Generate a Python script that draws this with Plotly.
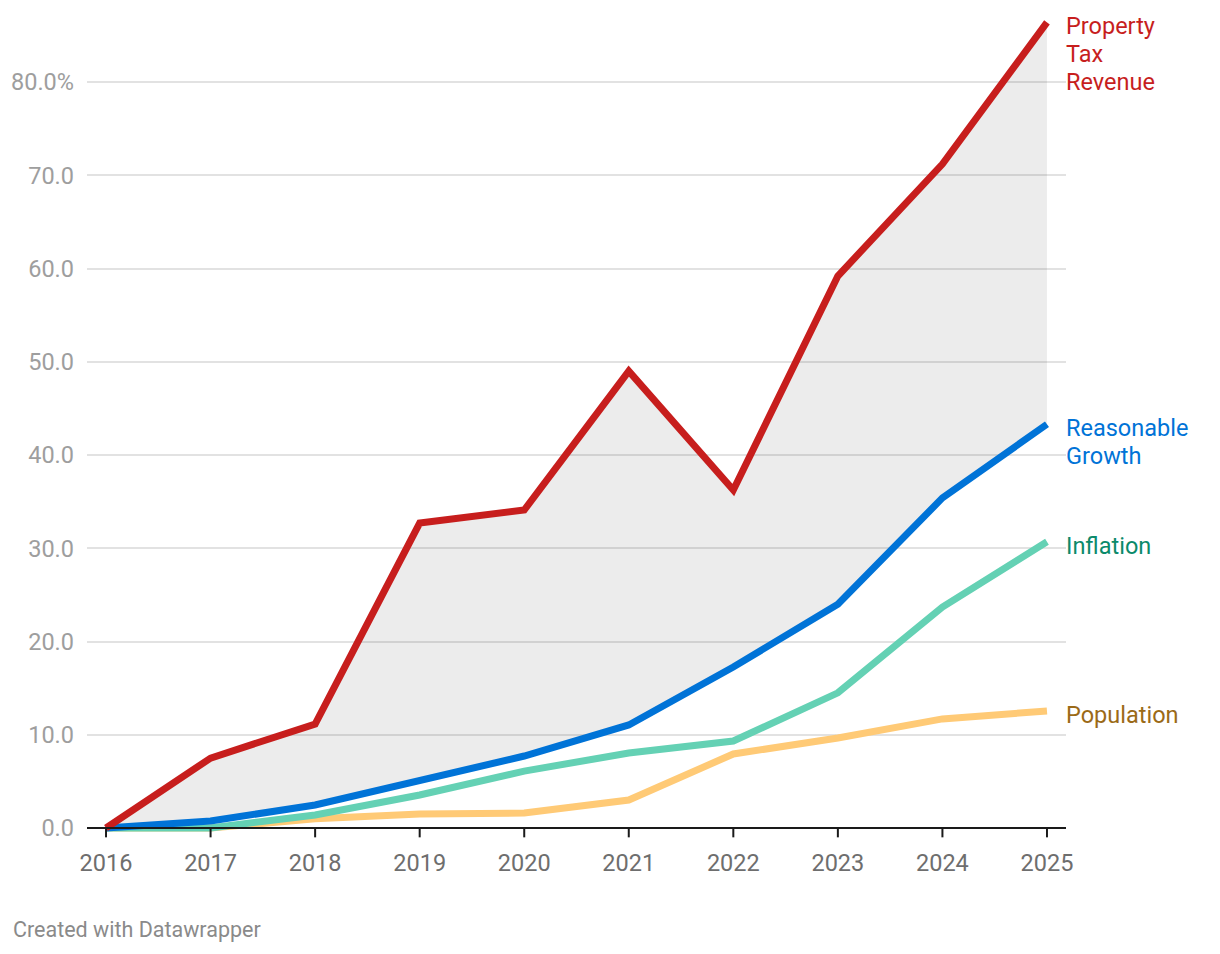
import plotly.graph_objects as go

years = [2016, 2017, 2018, 2019, 2020, 2021, 2022, 2023, 2024, 2025]
property_tax = [0.0, 7.5, 11.15, 32.7, 34.1, 49.0, 36.25, 59.2, 71.2, 86.4]
reasonable_growth = [0.0, 0.75, 2.47, 5.15, 7.72, 11.05, 17.27, 24.0, 35.4, 43.3]
inflation = [0.0, 0.0, 1.4, 3.54, 6.1, 8.04, 9.33, 14.5, 23.7, 30.7]
population = [0.0, 0.0, 1.0, 1.5, 1.6, 3.0, 7.94, 9.65, 11.7, 12.55]

y_ticks = [0, 10, 20, 30, 40, 50, 60, 70, 80]
y_ticktext = ["0.0", "10.0", "20.0", "30.0", "40.0", "50.0", "60.0", "70.0", "80.0%"]

series = [
    ("Population", population, "#ffca76", "#9b6a17", ["Population"]),
    ("Inflation", inflation, "#64d1b4", "#0b8a6b", ["Inflation"]),
    ("Reasonable Growth", reasonable_growth, "#0073d7", "#0073d7", ["Reasonable", "Growth"]),
    ("Property Tax Revenue", property_tax, "#c71e1d", "#c71e1d", ["Property", "Tax", "Revenue"]),
]

fig = go.Figure()

# shaded gap between reasonable growth and property tax revenue
fig.add_trace(go.Scatter(x=years, y=reasonable_growth, mode="lines",
                         line=dict(width=0, color="rgba(0,0,0,0)"),
                         hoverinfo="skip", showlegend=False))
fig.add_trace(go.Scatter(x=years, y=property_tax, mode="lines", fill="tonexty",
                         fillcolor="rgba(0,0,0,0.075)",
                         line=dict(width=0, color="rgba(0,0,0,0)"),
                         hoverinfo="skip", showlegend=False))

for name, vals, color, lcolor, lines in series:
    fig.add_trace(go.Scatter(x=years, y=vals, mode="lines", name=name,
                             line=dict(color=color, width=7), showlegend=False))
    for i, txt in enumerate(lines):
        fig.add_annotation(x=years[-1], y=vals[-1], text=txt, showarrow=False,
                           xanchor="left", yanchor="middle", align="left",
                           xshift=17, yshift=-(4 + 28 * i),
                           font=dict(family="Roboto", size=23.5, color=lcolor))

# x axis baseline and ticks
fig.add_shape(type="line", xref="paper", yref="y", x0=0, x1=1, y0=0, y1=0,
              line=dict(color="#1a1a1a", width=2), layer="above")
for yr in years:
    fig.add_shape(type="line", xref="x", yref="y", x0=yr, x1=yr, y0=0, y1=-1.0,
                  line=dict(color="#1a1a1a", width=2), layer="above")

fig.add_annotation(xref="paper", yref="paper", x=-0.0776, y=-0.1055,
                   xanchor="left", yanchor="middle", showarrow=False,
                   text="Created with Datawrapper",
                   font=dict(family="Roboto", size=21.5, color="#8a8a8a"))

fig.update_layout(
    width=1220, height=954,
    margin=dict(l=79, r=162, t=0, b=120),
    paper_bgcolor="white", plot_bgcolor="white",
    font=dict(family="Roboto"),
    xaxis=dict(range=[2015.818, 2025.182], tickvals=years,
               ticktext=[str(y) for y in years],
               showgrid=False, zeroline=False, showline=False,
               ticks="", tickfont=dict(size=23.5, color="#6e6e6e"),
               ticklabelstandoff=4),
    yaxis=dict(range=[-1.5, 87.94], tickvals=y_ticks, ticktext=y_ticktext,
               showgrid=True, gridcolor="#e2e2e2", gridwidth=1.5,
               zeroline=False, showline=False, ticks="",
               tickfont=dict(size=23.5, color="#9e9e9e"),
               ticklabelstandoff=12),
)

fig.write_html("out.html")
